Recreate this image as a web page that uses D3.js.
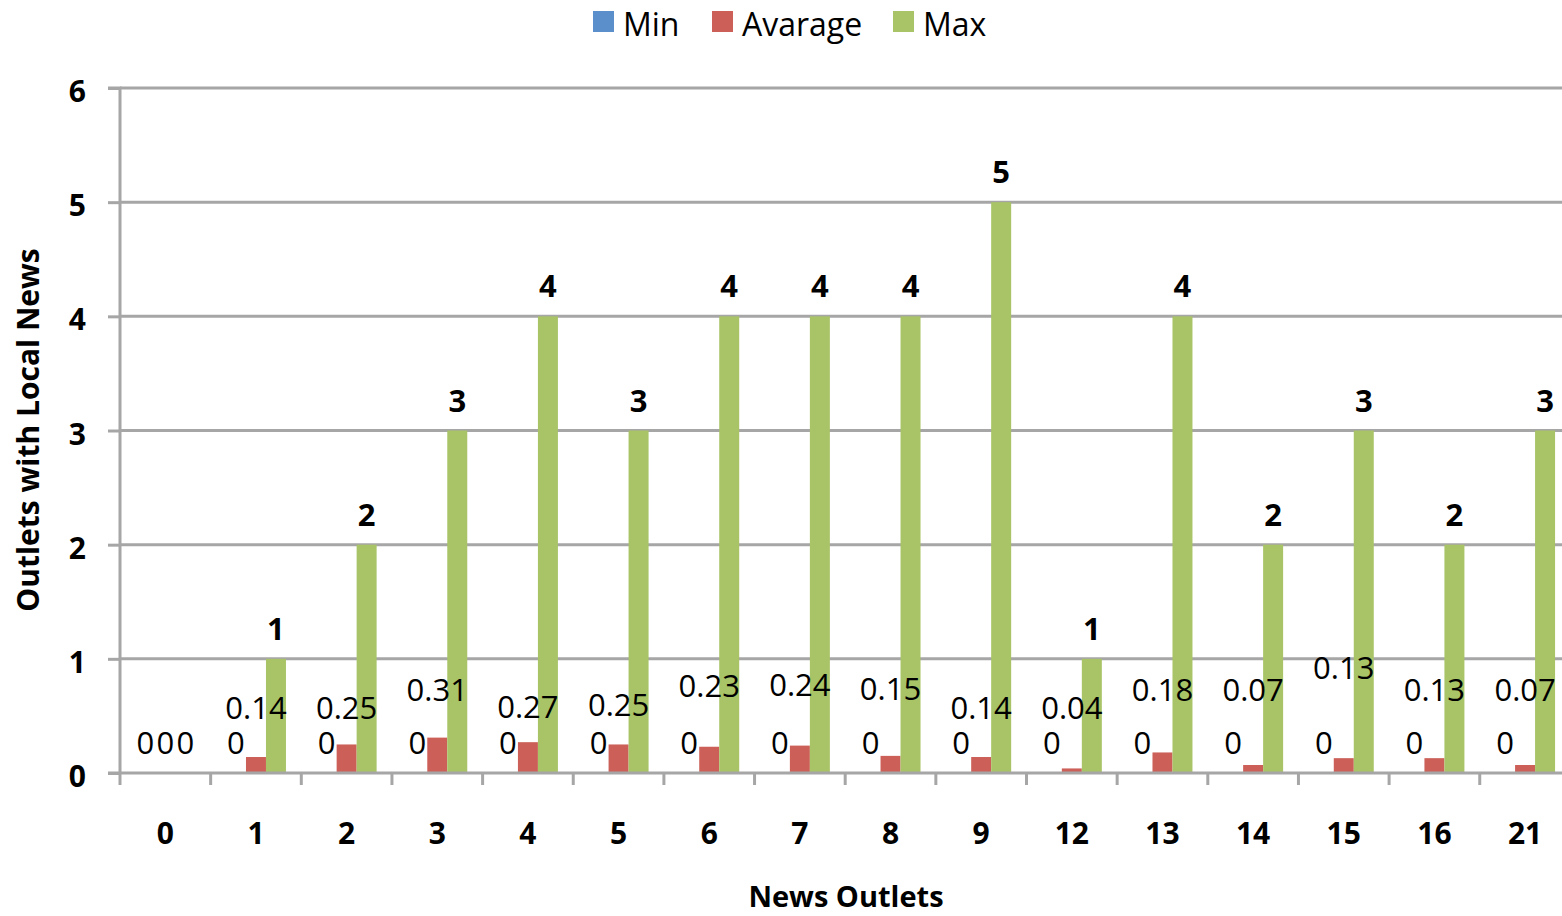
<!DOCTYPE html>
<html>
<head>
<meta charset="utf-8">
<script src="https://cdn.jsdelivr.net/npm/d3@7"></script>
<style>
  html, body { margin: 0; padding: 0; background: #fff; }
  svg { display: block; font-family: "Open Sans", "Noto Sans", sans-serif; }
</style>
</head>
<body>
<svg id="chart" width="1562" height="916"></svg>
<script>
// Number of local-news outlets per market, grouped by the market's total outlets
const categories = ["0", "1", "2", "3", "4", "5", "6", "7", "8", "9", "12", "13", "14", "15", "16", "21"];
const seriesNames = ["Min", "Avarage", "Max"];
const minValues = [0, 0, 0, 0, 0, 0, 0, 0, 0, 0, 0, 0, 0, 0, 0, 0];
const avgValues = [0, 0.14, 0.25, 0.31, 0.27, 0.25, 0.23, 0.24, 0.15, 0.14, 0.04, 0.18, 0.07, 0.13, 0.13, 0.07];
const maxValues = [0, 1, 2, 3, 4, 3, 4, 4, 4, 5, 1, 4, 2, 3, 2, 3];
const yTicks = [0, 1, 2, 3, 4, 5, 6];

// Extra lift (px) of each average label above the zero-label row, so labels clear the "0"s
const avgLabelLift = [0, 35, 35, 53, 36, 38, 57, 58, 54, 35, 35, 53, 53, 75, 53, 53];

const colors = { Min: "#5b8fcb", Avarage: "#cc6058", Max: "#a8c466" };
const valuesBySeries = { Min: minValues, Avarage: avgValues, Max: maxValues };

const svg = d3.select("#chart");
const plot = { left: 120, top: 88, bottom: 773, step: 90.65 };
plot.right = plot.left + plot.step * categories.length;

const x0 = d3.scaleBand().domain(categories).range([plot.left, plot.right]).padding(0);
const x1 = d3.scaleBand().domain(seriesNames).range([0, x0.bandwidth()]).paddingInner(0).paddingOuter(0.767);
const y = d3.scaleLinear().domain([0, 6]).range([plot.bottom, plot.top]);

const axisGrey = "#a6a6a6";

// Horizontal gridlines
svg.append("g")
  .selectAll("line")
  .data(yTicks.filter(t => t > 0))
  .join("line")
  .attr("x1", plot.left).attr("x2", plot.right)
  .attr("y1", d => y(d)).attr("y2", d => y(d))
  .attr("stroke", axisGrey).attr("stroke-width", 3);

// Bars
const rows = categories.map((c, i) => ({ cat: c, i }));
const groups = svg.append("g").selectAll("g")
  .data(rows)
  .join("g")
  .attr("transform", d => `translate(${x0(d.cat)},0)`);

groups.selectAll("rect")
  .data(d => seriesNames.map(s => ({ s, v: valuesBySeries[s][d.i] })))
  .join("rect")
  .attr("x", d => x1(d.s))
  .attr("width", x1.bandwidth())
  .attr("y", d => y(d.v))
  .attr("height", d => y(0) - y(d.v))
  .attr("fill", d => colors[d.s]);

// Y axis
const yAxis = d3.axisLeft(y).tickValues(yTicks).tickSize(12).tickPadding(22).tickFormat(d3.format("d"));
const gy = svg.append("g").attr("transform", `translate(${plot.left},0)`).call(yAxis);
gy.select(".domain").attr("stroke", axisGrey).attr("stroke-width", 3).attr("d", `M-12,${plot.top}H0V${plot.bottom}`);
gy.selectAll(".tick line").attr("stroke", axisGrey).attr("stroke-width", 3);
gy.selectAll(".tick text")
  .attr("font-size", 30).attr("font-weight", "bold").attr("fill", "#000")
  .attr("font-family", "'Open Sans', sans-serif")
  .attr("dy", "0.45em");

// X axis: ticks at the category boundaries
const gx = svg.append("g").attr("transform", `translate(0,${plot.bottom})`);
gx.append("line")
  .attr("x1", plot.left - 12).attr("x2", plot.right)
  .attr("stroke", axisGrey).attr("stroke-width", 3);
gx.selectAll("line.tick")
  .data(categories.map(c => x0(c)))
  .join("line")
  .attr("class", "tick")
  .attr("x1", d => d).attr("x2", d => d)
  .attr("y1", 0).attr("y2", 12)
  .attr("stroke", axisGrey).attr("stroke-width", 3);
gx.selectAll("text")
  .data(categories)
  .join("text")
  .attr("x", d => x0(d) + x0.bandwidth() / 2)
  .attr("y", 60)
  .attr("dy", "0.35em")
  .attr("text-anchor", "middle")
  .attr("font-size", 30).attr("font-weight", "bold")
  .text(d => d);

// Data labels
const labelFont = 31;
const fmt = v => (v === 0 ? "0" : d3.format(".2~f")(v));
const labels = svg.append("g").attr("font-size", labelFont).attr("text-anchor", "middle");

labels.selectAll("text.min")
  .data(rows)
  .join("text")
  .attr("class", "min")
  .attr("x", d => x0(d.cat) + x1("Min") + x1.bandwidth() / 2)
  .attr("y", d => y(minValues[d.i]) - 30)
  .attr("dy", "0.36em")
  .text(d => fmt(minValues[d.i]));

labels.selectAll("text.avg")
  .data(rows)
  .join("text")
  .attr("class", "avg")
  .attr("x", d => x0(d.cat) + x1("Avarage") + x1.bandwidth() / 2)
  .attr("y", d => y(0) - 30 - avgLabelLift[d.i])
  .attr("dy", "0.36em")
  .text(d => fmt(avgValues[d.i]));

labels.selectAll("text.max")
  .data(rows)
  .join("text")
  .attr("class", "max")
  .attr("x", d => x0(d.cat) + x1("Max") + x1.bandwidth() / 2)
  .attr("y", d => y(maxValues[d.i]) - 30)
  .attr("dy", "0.36em")
  .attr("font-weight", d => maxValues[d.i] > 0 ? "bold" : "normal")
  .text(d => fmt(maxValues[d.i]));

// Axis titles
svg.append("text")
  .attr("x", 846).attr("y", 897).attr("dy", "0.35em")
  .attr("text-anchor", "middle")
  .attr("font-size", 29).attr("font-weight", "bold")
  .text("News Outlets");

svg.append("text")
  .attr("transform", "translate(28,430) rotate(-90)")
  .attr("dy", "0.35em")
  .attr("text-anchor", "middle")
  .attr("font-size", 30).attr("font-weight", "bold")
  .text("Outlets with Local News");

// Legend
const legendItems = [
  { name: "Min", x: 593 },
  { name: "Avarage", x: 712 },
  { name: "Max", x: 893 }
];
const legend = svg.append("g");
legend.selectAll("rect")
  .data(legendItems)
  .join("rect")
  .attr("x", d => d.x).attr("y", 11)
  .attr("width", 21).attr("height", 21)
  .attr("fill", d => colors[d.name]);
legend.selectAll("text")
  .data(legendItems)
  .join("text")
  .attr("x", d => d.x + 30).attr("y", 25).attr("dy", "0.35em")
  .attr("font-size", 32)
  .text(d => d.name);
</script>
</body>
</html>
